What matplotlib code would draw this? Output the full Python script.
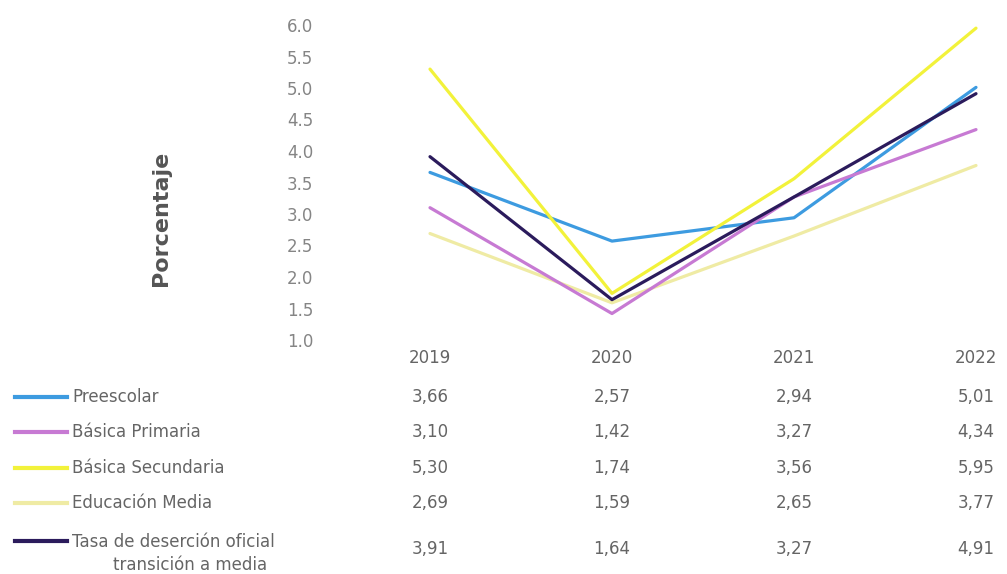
import numpy as np
import matplotlib.pyplot as plt
from matplotlib.lines import Line2D
from matplotlib.transforms import blended_transform_factory

years = ["2019", "2020", "2021", "2022"]
series_names = ["Preescolar", "Básica Primaria", "Básica Secundaria",
                "Educación Media", "Tasa de deserción oficial"]
preescolar = [3.66, 2.57, 2.94, 5.01]
basica_primaria = [3.10, 1.42, 3.27, 4.34]
basica_secundaria = [5.30, 1.74, 3.56, 5.95]
educacion_media = [2.69, 1.59, 2.65, 3.77]
tasa_total = [3.91, 1.64, 3.27, 4.91]
colors = ["#3d9be0", "#c77ad3", "#f2f23a", "#efeba4", "#2b1b5c"]

all_series = [preescolar, basica_primaria, basica_secundaria, educacion_media, tasa_total]

W, H = 1007, 574
fig = plt.figure(figsize=(W / 100, H / 100), dpi=100)
ax = fig.add_axes([330 / W, (H - 340) / H, (W - 330) / W, 315 / H])

x = np.arange(len(years))
# light ones first, dark total on top
for i in [3, 0, 1, 2, 4]:
    ax.plot(x, all_series[i], color=colors[i], lw=2.3, solid_capstyle="round")

ticks = np.arange(1.0, 6.01, 0.5)
ax.set_ylim(1.0, 6.0)
ax.set_xlim(-100 / 182, (W - 330 - 100) / 182)
ax.set_yticks(ticks)
ax.set_yticklabels([f"{v:.1f}" for v in ticks], color="#858585", fontsize=12)
ax.set_xticks([])
ax.tick_params(axis="y", length=0, pad=12)
for s in ax.spines.values():
    s.set_visible(False)

fig.text(161 / W, 1 - 218 / H, "Porcentaje", rotation=90, ha="center", va="center",
         fontsize=16, fontweight="bold", color="#555555")

# data table under the chart
trans = blended_transform_factory(ax.transData, fig.transFigure)
txt_color = "#656565"
fs = 12
for j, yr in enumerate(years):
    ax.text(j, 1 - 358 / H, yr, transform=trans, ha="center", va="center",
            fontsize=fs, color=txt_color)

row_y = [397, 432, 468, 503, 549]
for i, name in enumerate(series_names):
    yy = 1 - row_y[i] / H
    key_y = yy if i < 4 else 1 - 541 / H
    fig.add_artist(Line2D([15 / W, 67 / W], [key_y, key_y], transform=fig.transFigure,
                          color=colors[i], lw=3))
    if i < 4:
        fig.text(72 / W, yy, name, ha="left", va="center", fontsize=fs, color=txt_color)
    else:
        fig.text(72 / W, 1 - 542 / H, name, ha="left", va="center",
                 fontsize=fs, color=txt_color)
        fig.text(190 / W, 1 - 565 / H, "transición a media", ha="center", va="center",
                 fontsize=fs, color=txt_color)
    for j, v in enumerate(all_series[i]):
        ax.text(j, yy, f"{v:.2f}".replace(".", ","), transform=trans, ha="center",
                va="center", fontsize=fs, color=txt_color)

fig.savefig("out.png", dpi=100)
